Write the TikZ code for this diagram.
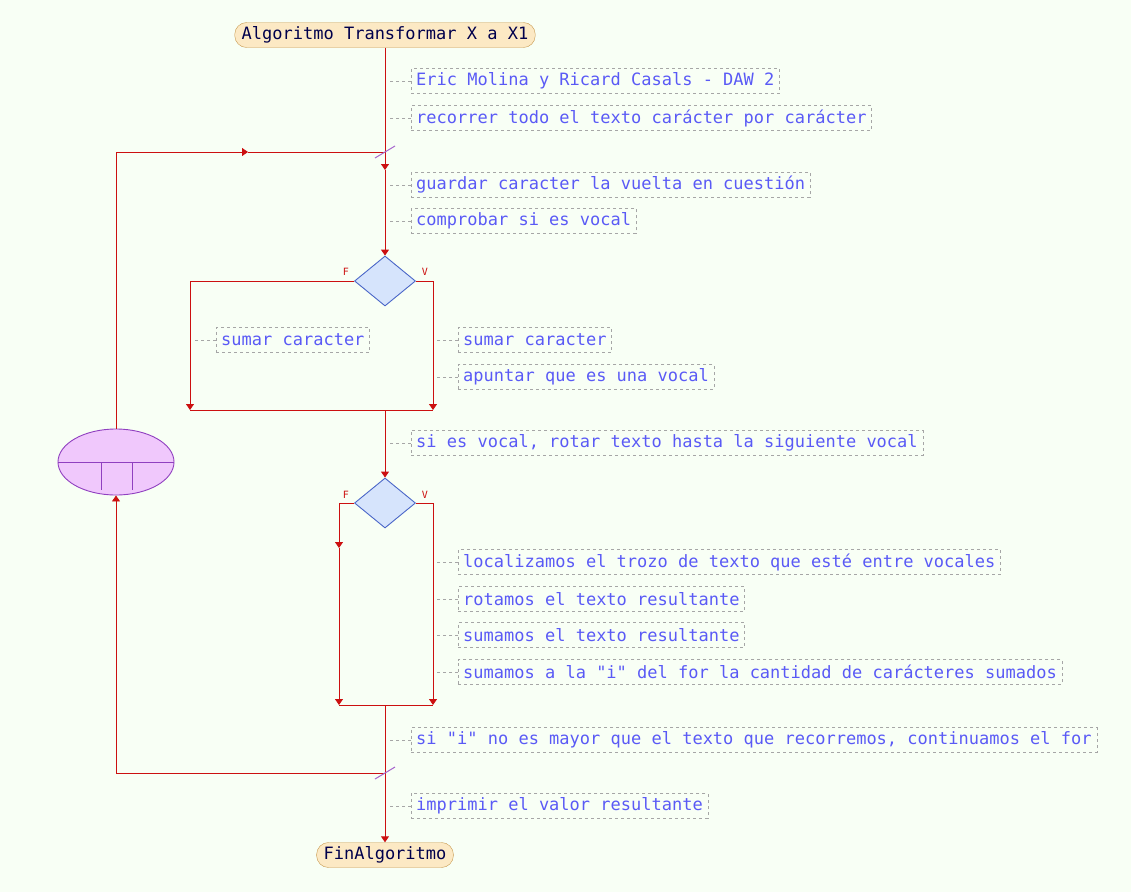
\documentclass[tikz,border=0pt]{standalone}
\usepackage{fontspec}
\setmonofont{DejaVu Sans Mono}
\usetikzlibrary{shapes.geometric,arrows.meta}

\definecolor{bgc}{HTML}{F8FFF5}
\definecolor{flowc}{HTML}{CC1010}
\definecolor{cmtc}{HTML}{5A5AF5}
\definecolor{edgc}{HTML}{C89A50}
\definecolor{procc}{HTML}{FCE9C4}
\definecolor{decc}{HTML}{D6E4FC}
\definecolor{decb}{HTML}{4A66C8}
\definecolor{loopc}{HTML}{F0C8FC}
\definecolor{loopb}{HTML}{9040C0}

\tikzset{
  flow/.style={draw=flowc,line width=0.9pt},
  tip/.style={-{Triangle[width=8pt,length=6pt]}},
  terminal/.style={draw=edgc,fill=procc,rounded corners=12pt,minimum height=25pt,
    inner xsep=7pt,text=blue!30!black,font=\ttfamily\fontsize{17}{20}\selectfont},
  cmt/.style={draw=gray!70,dashed,dash pattern=on 3pt off 3pt,anchor=west,minimum height=25pt,
    inner xsep=5pt,inner ysep=2pt,text=cmtc,font=\ttfamily\fontsize{17}{20}\selectfont},
  cmtln/.style={draw=gray!70,dash pattern=on 3pt off 3pt},
  decision/.style={diamond,draw=decb,line width=0.9pt,fill=decc,minimum width=61pt,minimum height=50pt,inner sep=0pt},
  fv/.style={text=flowc,font=\ttfamily\fontsize{10}{12}\selectfont},
  slash/.style={draw=loopb!80,line width=1pt}
}

\begin{document}
\begin{tikzpicture}[x=1pt,y=-1pt]
  \path[fill=bgc,use as bounding box] (0,0) rectangle (1131,892);

  % start and end
  \node[terminal] (ini) at (385,35) {Algoritmo Transformar X a X1};
  \node[terminal] (fin) at (385,855) {FinAlgoritmo};

  % for loop
  \node[ellipse,draw=loopb,line width=0.9pt,fill=loopc,minimum width=116pt,minimum height=66pt,inner sep=0pt] (loop) at (116,462) {};
  \draw[loopb,line width=0.9pt] (loop.west) -- (loop.east);
  \draw[loopb,line width=0.9pt] (101,462) -- (101,490);
  \draw[loopb,line width=0.9pt] (132,462) -- (132,490);

  % decisions
  \node[decision] (d1) at (385,281) {};
  \node[decision] (d2) at (385,503) {};
  \node[fv] (f1) at (346,272) {F};
  \node[fv] (v1) at (425,272) {V};
  \node[fv] (f2) at (346,495) {F};
  \node[fv] (v2) at (425,495) {V};

  % points on the flow
  \coordinate (ja) at (385,152);
  \coordinate (ma) at (385,170);
  \coordinate (lt) at (248,152);
  \coordinate (j1l) at (190,410);
  \coordinate (j1r) at (433,410);
  \coordinate (j1) at (385,410);
  \coordinate (m2) at (339,548);
  \coordinate (j2l) at (339,705);
  \coordinate (j2r) at (433,705);
  \coordinate (j2) at (385,705);
  \coordinate (jb) at (385,773);

  % main flow
  \draw[flow,tip] (ini.south) -- (ma);
  \draw[flow,tip] (ma) -- (d1.north);
  \draw[flow,tip] (d1.west) -| (j1l);
  \draw[flow,tip] (d1.east) -| (j1r);
  \draw[flow] (j1l) -- (j1r);
  \draw[flow,tip] (j1) -- (d2.north);
  \draw[flow,tip] (d2.west) -| (m2);
  \draw[flow,tip] (m2) -- (j2l);
  \draw[flow,tip] (d2.east) -| (j2r);
  \draw[flow] (j2l) -- (j2r);
  \draw[flow,tip] (j2) -- (fin.north);

  % loop back
  \draw[flow,tip] (loop.north) |- (lt);
  \draw[flow] (lt) -- (ja);
  \draw[flow,tip] (jb) -| (loop.south);
  \draw[slash] (ja) ++(-10,6) -- ++(20,-12);
  \draw[slash] (jb) ++(-10,6) -- ++(20,-12);

  % comments
  \node[cmt] (c1) at (411,81) {Eric Molina y Ricard Casals - DAW 2};
  \node[cmt] (c2) at (411,118) {recorrer todo el texto carácter por carácter};
  \node[cmt] (c3) at (411,185) {guardar caracter la vuelta en cuestión};
  \node[cmt] (c4) at (411,221) {comprobar si es vocal};
  \node[cmt] (c5) at (216,340) {sumar caracter};
  \node[cmt] (c6) at (458,340) {sumar caracter};
  \node[cmt] (c7) at (458,377) {apuntar que es una vocal\ };
  \node[cmt] (c8) at (411,443) {si es vocal, rotar texto hasta la siguiente vocal};
  \node[cmt] (c9) at (458,562) {localizamos el trozo de texto que esté entre vocales};
  \node[cmt] (c10) at (458,599) {rotamos el texto resultante};
  \node[cmt] (c11) at (458,635) {sumamos el texto resultante};
  \node[cmt] (c12) at (458,672) {sumamos a la "i" del for la cantidad de carácteres sumados};
  \node[cmt] (c13) at (411,740) {si "i" no es mayor que el texto que recorremos, continuamos el for};
  \node[cmt] (c14) at (411,806) {imprimir el valor resultante};

  \foreach \c in {c1,c2,c3,c4,c8,c13,c14}
    \draw[cmtln] (\c.west) -- ++(-21,0);
  \foreach \c in {c5,c6,c7,c9,c10,c11,c12}
    \draw[cmtln] (\c.west) -- ++(-21,0);
\end{tikzpicture}
\end{document}
